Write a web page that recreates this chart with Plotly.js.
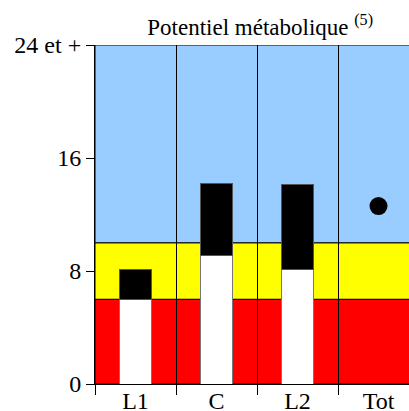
<!DOCTYPE html>
<html>
<head>
<meta charset="utf-8">
<script src="https://cdn.plot.ly/plotly-3.0.1.min.js"></script>
<style>html,body{margin:0;padding:0;overflow:hidden;background:#fff;width:409px;height:411px}</style>
</head>
<body>
<div id="chart"></div>
<script>
const categories = ['L1', 'C', 'L2', 'Tot'];
const barCats = ['L1', 'C', 'L2'];
const whiteValues = [6.0, 9.1, 8.1];
const blackValues = [2.1, 5.1, 6.0];
const dotCat = ['Tot'];
const dotValue = [12.6];
const bandLimits = [0, 6, 10, 24];
const bandColors = ['#ff0000', '#ffff00', '#99ccff'];
const yTickVals = [0, 8, 16, 24];
const yTickText = ['0', '8', '16', '24 et +'];

const font = {family: "'Liberation Serif', 'Times New Roman', serif", color: '#000'};

const shapes = bandColors.map((c, i) => ({
  type: 'rect', xref: 'paper', yref: 'y', layer: 'below',
  x0: 0, x1: 1, y0: bandLimits[i], y1: bandLimits[i + 1],
  fillcolor: c, line: {color: '#000', width: 1}
}));

const traces = [
  {type: 'bar', x: barCats, y: whiteValues, width: 0.4,
   marker: {color: '#ffffff', line: {color: '#777', width: 1}}, hoverinfo: 'none'},
  {type: 'bar', x: barCats, y: blackValues, width: 0.4,
   marker: {color: '#000000', line: {color: '#555', width: 1}}, hoverinfo: 'none'},
  {type: 'scatter', mode: 'markers', x: dotCat, y: dotValue,
   marker: {color: '#000', size: 18}, hoverinfo: 'none'}
];

const layout = {
  width: 430, height: 411,
  margin: {l: 95, r: 11, t: 45, b: 27},
  paper_bgcolor: '#fff', plot_bgcolor: '#fff',
  showlegend: false, barmode: 'stack',
  font: font,
  title: {text: 'Potentiel métabolique <sup>(5)</sup>', font: Object.assign({size: 23}, font),
          x: 0.605, xanchor: 'center', y: 0.935, yanchor: 'middle'},
  xaxis: {type: 'category', categoryarray: categories, categoryorder: 'array',
          range: [-0.5, 3.5], tickson: 'boundaries', ticks: 'outside', ticklen: 10,
          ticklabelstandoff: -5,
          tickcolor: '#000', showgrid: true, gridcolor: '#000', gridwidth: 1,
          showline: true, linecolor: '#000', linewidth: 1, zeroline: false,
          tickfont: Object.assign({size: 24}, font), fixedrange: true},
  yaxis: {range: [0, 24], tickvals: yTickVals, ticktext: yTickText, ticks: 'outside',
          ticklen: 8, tickcolor: '#000', showgrid: false, zeroline: false,
          showline: true, linecolor: '#000', linewidth: 1,
          tickfont: Object.assign({size: 24}, font), fixedrange: true},
  shapes: shapes
};

Plotly.newPlot('chart', traces, layout, {displayModeBar: false, staticPlot: true});
</script>
</body>
</html>
